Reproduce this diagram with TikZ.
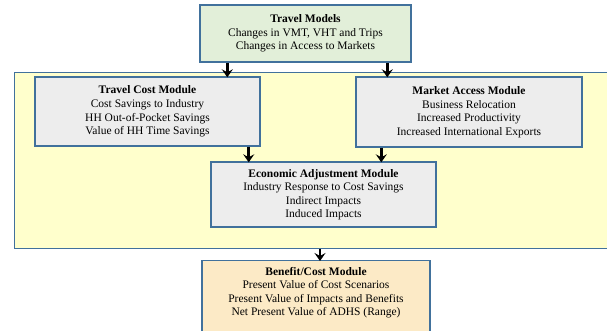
\documentclass[tikz,border=0pt]{standalone}
\usepackage{fontspec}
\setmainfont{Liberation Serif}
\usetikzlibrary{arrows.meta,calc}
\definecolor{bordc}{HTML}{41719C}
\definecolor{tmfill}{HTML}{E2EFD9}
\definecolor{modfill}{HTML}{EDEDED}
\definecolor{yelfill}{HTML}{FFFFCC}
\definecolor{bcfill}{HTML}{FCEAC6}
\tikzset{
  box/.style={draw=bordc, line width=1.4pt, inner sep=0pt, align=center,
    font=\fontsize{11.5}{13.5}\selectfont},
  txt/.style={inner sep=0pt, align=center, font=\fontsize{11.5}{13.5}\selectfont},
  arr/.style={line width=2.8pt, -{Stealth[length=8pt,width=11pt,inset=3pt]}, shorten >=-1pt}
}
\begin{document}
\begin{tikzpicture}[x=1pt,y=1pt]
\useasboundingbox (0,0) rectangle (607,330);
% container
\node[box, fill=yelfill, anchor=north west, minimum width=610pt, minimum height=176pt] (adj) at (14,258) {};
% Travel Models
\node[box, fill=tmfill, minimum width=211pt, minimum height=57pt] (tm) at (305.5,296.5)
  {\textbf{Travel Models}\\Changes in VMT, VHT and Trips\\Changes in Access to Markets};
% Travel cost
\node[box, fill=modfill, minimum width=225pt, minimum height=69pt] (tc) at (147.5,218.5)
  {\textbf{Travel Cost Module}\\Cost Savings to Industry\\HH Out-of-Pocket Savings\\Value of HH Time Savings};
% Market access
\node[box, fill=modfill, minimum width=226pt, minimum height=70pt] (ma) at (469,218)
  {\textbf{Market Access Module}\\Business Relocation\\Increased Productivity\\Increased International Exports};
% Economic adjustment
\node[box, fill=modfill, minimum width=225pt, minimum height=65pt] (ea) at (323.5,135.5)
  {\textbf{Economic Adjustment Module}\\Industry Response to Cost Savings\\Indirect Impacts\\Induced Impacts};
% Benefit cost
\node[box, fill=bcfill, anchor=north, minimum width=228pt, minimum height=90pt] (bc) at (316,70) {};
\node[txt, anchor=north] (bctext) at ([yshift=-7pt]bc.north)
  {\textbf{Benefit/Cost Module}\\Present Value of Cost Scenarios\\Present Value of Impacts and Benefits\\Net Present Value of ADHS (Range)};
% arrows
\coordinate (a1) at ([xshift=28pt]tm.south west);
\coordinate (a2) at ([xshift=188pt]tm.south west);
\coordinate (a3) at ([xshift=-12pt]tc.south east);
\coordinate (a4) at ([xshift=26pt]ma.south west);
\coordinate (a5) at (320,0 |- adj.south);
\draw[arr] (a1) -- (a1 |- tc.north);
\draw[arr] (a2) -- (a2 |- ma.north);
\draw[arr] (a3) -- (a3 |- ea.north);
\draw[arr] (a4) -- (a4 |- ea.north);
\draw[arr] (a5) -- (a5 |- bc.north);
\end{tikzpicture}
\end{document}
